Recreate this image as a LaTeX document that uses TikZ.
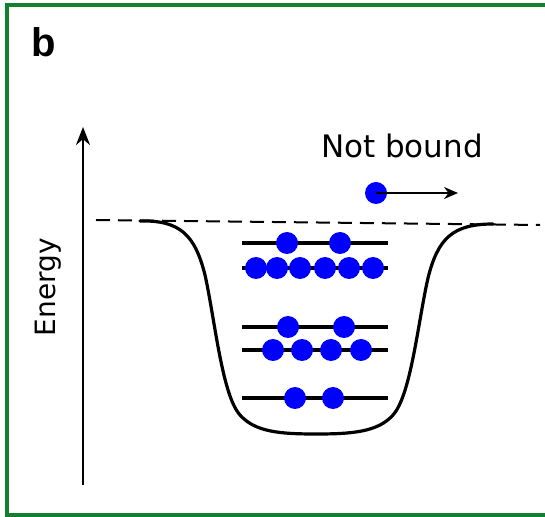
\documentclass[tikz,border=0pt]{standalone}
\usepackage{fontspec}
\setmainfont{DejaVu Sans}
\newfontfamily\panelfont{Liberation Sans}
\usetikzlibrary{arrows.meta, positioning}

\definecolor{framegreen}{RGB}{18,128,44}
\definecolor{dotblue}{RGB}{0,0,255}

\tikzset{
  dot/.style={circle, fill=dotblue, inner sep=0pt, minimum size=11pt},
  level/.style={line width=2.4pt},
  well/.style={line width=1.6pt, line cap=round},
}

\begin{document}
\begin{tikzpicture}[x=0.5pt, y=-0.5pt, >=Stealth]
  \useasboundingbox (0,0) rectangle (545,517);
  % panel frame (open at the right)
  \draw[framegreen, line width=2pt] (548,5) -- (7,5) -- (7,515) -- (548,515);
  \node[anchor=base west, inner sep=0pt,
        font=\panelfont\bfseries\fontsize{20}{22}\selectfont] (panel) at (31,57) {b};

  % energy axis
  \coordinate (axbot) at (83,485);
  \coordinate (axtop) at (83,127);
  \draw[->, line width=1.2pt, >={Stealth[length=9pt, width=7pt]}] (axbot) -- (axtop);
  \node[rotate=90, anchor=base, inner sep=0pt,
        font=\fontsize{14}{16}\selectfont] (energy) at (55,287) {Energy};

  % threshold and potential well
  \draw[dashed, line width=1pt, dash pattern=on 7pt off 4pt] (96,220) -- (540,225);
  \draw[well] (140,221)
      .. controls (180,220) and (195,235) .. (205,275)
      .. controls (215,320) and (222,395) .. (240,415)
      .. controls (255,432) and (280,434) .. (316,434)
      .. controls (352,434) and (378,432) .. (393,415)
      .. controls (411,395) and (418,322) .. (428,278)
      .. controls (438,238) and (453,224) .. (493,224);

  % bound levels
  \draw[level] (242,243) -- (388,243);
  \draw[level] (242,268) -- (388,268);
  \draw[level] (242,327) -- (388,327);
  \draw[level] (242,350) -- (388,350);
  \draw[level] (242,398) -- (388,398);

  % occupied states
  \node[dot] (a1) at (287,243) {};
  \node[dot] (a2) at (340,243) {};
  \node[dot] (b1) at (256,268) {};
  \node[dot] (b2) at (277,268) {};
  \node[dot] (b3) at (300,268) {};
  \node[dot] (b4) at (325,268) {};
  \node[dot] (b5) at (349,268) {};
  \node[dot] (b6) at (373,268) {};
  \node[dot] (c1) at (288,327) {};
  \node[dot] (c2) at (344,327) {};
  \node[dot] (d1) at (273,350) {};
  \node[dot] (d2) at (302,350) {};
  \node[dot] (d3) at (331,350) {};
  \node[dot] (d4) at (361,350) {};
  \node[dot] (e1) at (295,398) {};
  \node[dot] (e2) at (333,398) {};

  % free particle
  \node[dot] (free) at (376,193) {};
  \coordinate (away) at (458,193);
  \draw[->, line width=1.1pt, >={Stealth[length=7pt, width=6pt]}] (free.center) -- (away);
  \node[anchor=base, inner sep=0pt,
        font=\fontsize{15.5}{18}\selectfont] (notbound) at (402,158) {Not bound};
\end{tikzpicture}
\end{document}
